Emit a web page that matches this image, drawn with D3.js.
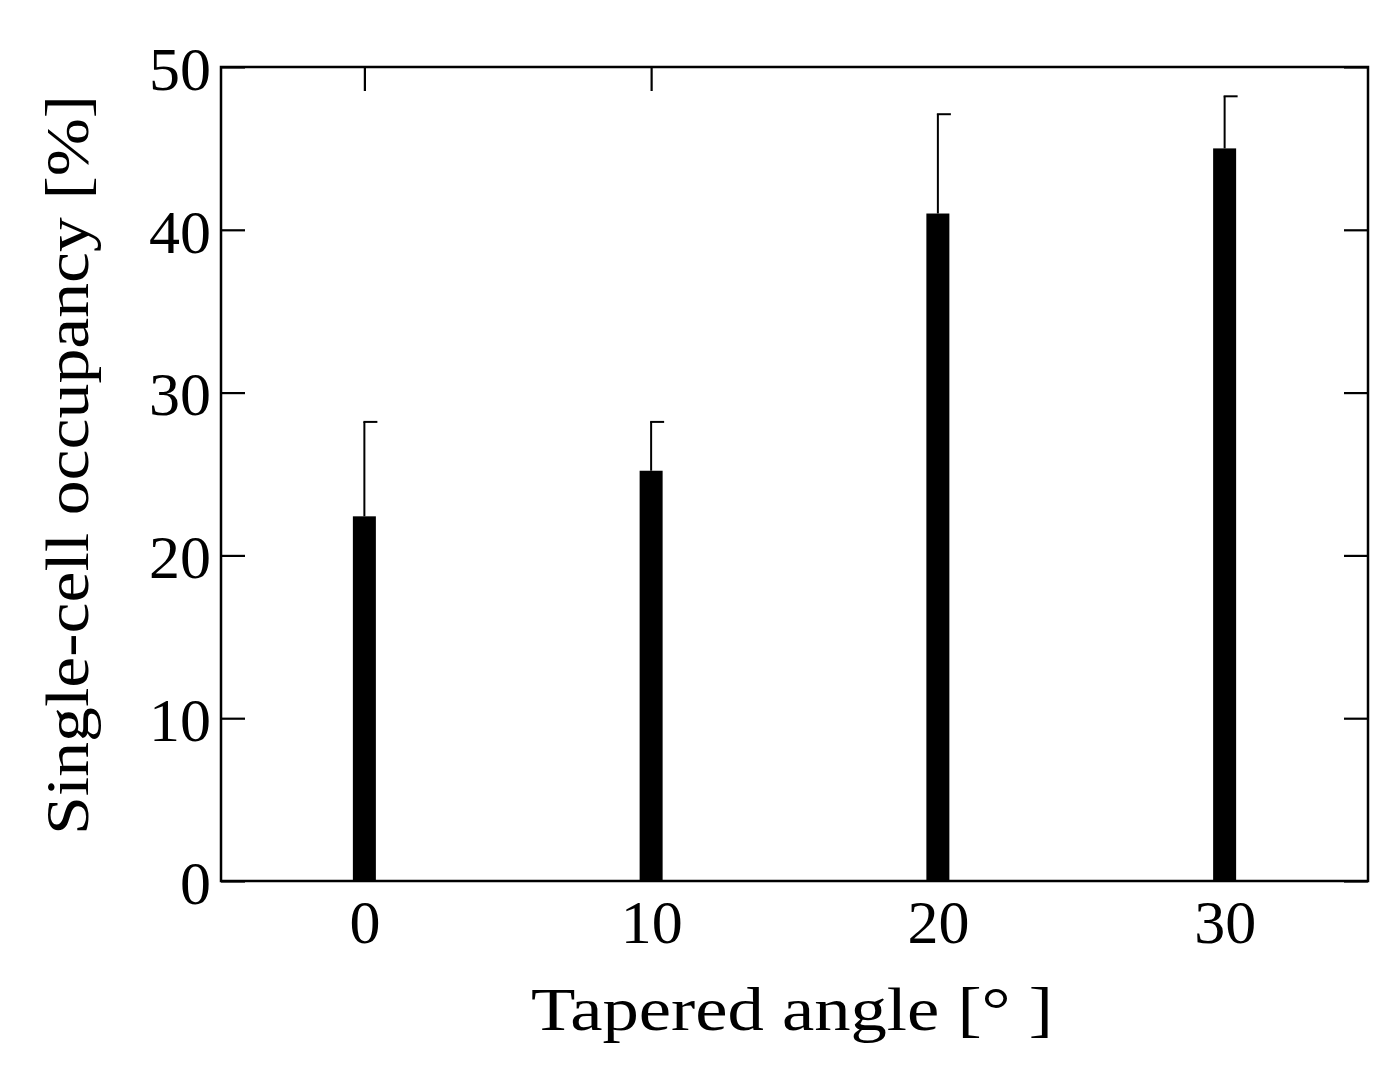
<!DOCTYPE html>
<html><head><meta charset="utf-8">
<script src="https://cdn.jsdelivr.net/npm/d3@7"></script>
<style>body{margin:0;background:#fff}</style>
</head><body><svg id="chart" width="1389" height="1065"></svg>
<script>
const angles = [0, 10, 20, 30];
const occupancy = [22.4, 25.2, 41.0, 45.0];
const errUpper = [28.2, 28.2, 47.1, 48.2];
const yTicks = [0, 10, 20, 30, 40, 50];

const svg = d3.select("#chart");
const m = { left: 221, right: 1368, top: 67, bottom: 881 };
const font = "'Liberation Serif', 'Times New Roman', serif";

const x = d3.scaleLinear().domain([-5, 35]).range([m.left, m.right]);
const y = d3.scaleLinear().domain([0, 50]).range([m.bottom, m.top]);

// bars
svg.append("g").selectAll("rect").data(angles).enter().append("rect")
  .attr("x", d => x(d) - 11.5).attr("width", 23)
  .attr("y", (d, i) => y(occupancy[i]))
  .attr("height", (d, i) => y(0) - y(occupancy[i]))
  .attr("fill", "#000");

// error bars (upper only)
const eg = svg.append("g").attr("stroke", "#000").attr("stroke-width", 2);
angles.forEach((a, i) => {
  eg.append("line").attr("x1", x(a)).attr("x2", x(a)).attr("y1", y(occupancy[i])).attr("y2", y(errUpper[i]));
  eg.append("line").attr("x1", x(a) - 1).attr("x2", x(a) + 13).attr("y1", y(errUpper[i])).attr("y2", y(errUpper[i]));
});

// frame
svg.append("rect").attr("x", m.left).attr("y", m.top)
  .attr("width", m.right - m.left).attr("height", m.bottom - m.top)
  .attr("fill", "none").attr("stroke", "#000").attr("stroke-width", 2.5);

const tl = 24;
const axisStyle = g => {
  g.select(".domain").remove();
  g.selectAll(".tick line").attr("stroke", "#000").attr("stroke-width", 2.2);
  g.selectAll(".tick text").attr("font-family", font).attr("font-size", 62).attr("fill", "#000");
};
svg.append("g").attr("transform", `translate(${m.left},0)`)
  .call(d3.axisRight(y).tickValues(yTicks).tickSize(tl).tickFormat(d3.format("d")))
  .call(axisStyle)
  .call(g => g.selectAll(".tick text").attr("x", -10).attr("text-anchor", "end").attr("dy", "0.36em"));
svg.append("g").attr("transform", `translate(${m.right},0)`)
  .call(d3.axisLeft(y).tickValues(yTicks).tickSize(tl).tickFormat(""))
  .call(axisStyle);
svg.append("g").attr("transform", `translate(0,${m.top})`)
  .call(d3.axisBottom(x).tickValues(angles.slice(0, 2)).tickSize(tl).tickFormat(""))
  .call(axisStyle);
svg.append("g").attr("transform", `translate(0,${m.bottom})`)
  .call(d3.axisTop(x).tickValues(angles).tickSize(0).tickFormat(d3.format("d")))
  .call(axisStyle)
  .call(g => g.selectAll(".tick text").attr("y", 62).attr("dy", 0));

svg.append("text").attr("x", 792).attr("y", 1030).attr("text-anchor", "middle")
  .attr("font-family", font).attr("font-size", 62)
  .attr("textLength", 522).attr("lengthAdjust", "spacingAndGlyphs").text("Tapered angle [°   ]");
svg.append("text").attr("transform", "translate(88,465) rotate(-90)").attr("text-anchor", "middle")
  .attr("font-family", font).attr("font-size", 62)
  .attr("textLength", 740).attr("lengthAdjust", "spacingAndGlyphs").text("Single-cell occupancy [%]");
</script></body></html>
